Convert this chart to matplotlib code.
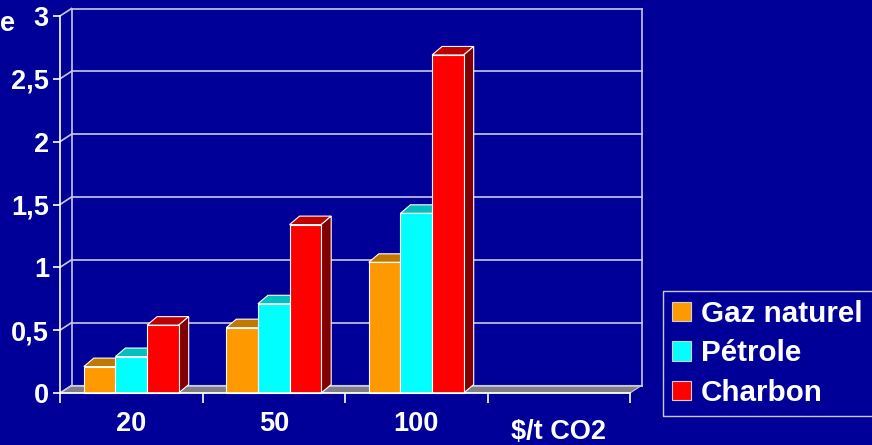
import matplotlib
matplotlib.use("Agg")
import matplotlib.pyplot as plt
from matplotlib.patches import Polygon, Rectangle, Patch

# ------------------------
# Data
# ------------------------
prices = ["20", "50", "100"]
series = ["Gaz naturel", "Pétrole", "Charbon"]
gaz = [0.21, 0.52, 1.04]
petrole = [0.29, 0.71, 1.43]
charbon = [0.54, 1.34, 2.69]
yticks = [0, 0.5, 1, 1.5, 2, 2.5, 3]
ytick_labels = ["0", "0,5", "1", "1,5", "2", "2,5", "3"]

BG = "#000099"
FRONT = ["#FF9900", "#00FFFF", "#FF0000"]
TOP = ["#C07800", "#00C0C0", "#C00000"]
SIDE = ["#A05A00", "#008C8C", "#800000"]
WALL = "#C8C8E6"

plt.rcParams["font.family"] = ["Liberation Sans", "DejaVu Sans"]
plt.rcParams["font.weight"] = "bold"

fig = plt.figure(figsize=(8.72, 4.45), dpi=100, facecolor=BG)
W, H = 872, 445
ax = fig.add_axes([60 / W, 52 / H, 570 / W, 377 / H])
ax.set_facecolor("none")
ax.set_xlim(0, 4)
ax.set_ylim(0, 3)

# pixel -> data helpers for the 3D depth
px_x = 4 / 570
px_y = 3 / 377
wdx, wdy = 11.5 * px_x, 7.5 * px_y     # walls
bdx, bdy = 10 * px_x, 8.5 * px_y       # bars

# back wall, side wall, floor
ax.add_patch(Polygon([(0, 0), (4, 0), (4 + wdx, wdy), (wdx, wdy)],
                     closed=True, facecolor="#808080", edgecolor=WALL,
                     lw=0.8, clip_on=False, zorder=1))
for y in yticks:
    ax.plot([wdx, 4 + wdx], [y + wdy, y + wdy], color=WALL, lw=1.2,
            clip_on=False, zorder=1)
    ax.plot([0, wdx], [y, y + wdy], color=WALL, lw=1.2, clip_on=False, zorder=1)
ax.plot([wdx, wdx], [wdy, 3 + wdy], color=WALL, lw=1.2, clip_on=False, zorder=1)
ax.plot([4 + wdx, 4 + wdx], [wdy, 3 + wdy], color=WALL, lw=1.2,
        clip_on=False, zorder=1)

# 3D bars: top, side, then front face
bw = 0.222
values = [gaz, petrole, charbon]
for i in range(len(prices)):
    for j, vals in enumerate(values):
        v = vals[i]
        x0 = i + 0.5 - 1.5 * bw + j * bw
        ax.add_patch(Polygon([(x0, v), (x0 + bw, v), (x0 + bw + bdx, v + bdy),
                              (x0 + bdx, v + bdy)], closed=True,
                             facecolor=TOP[j], edgecolor="white", lw=0.8,
                             clip_on=False, zorder=3))
        ax.add_patch(Polygon([(x0 + bw, 0), (x0 + bw + bdx, bdy),
                              (x0 + bw + bdx, v + bdy), (x0 + bw, v)],
                             closed=True, facecolor=SIDE[j], edgecolor="white",
                             lw=0.8, clip_on=False, zorder=3))
        ax.add_patch(Rectangle((x0, 0), bw, v, facecolor=FRONT[j],
                               edgecolor="white", lw=0.8, clip_on=False,
                               zorder=3))

# axes
for s in ["top", "right"]:
    ax.spines[s].set_visible(False)
for s in ["left", "bottom"]:
    ax.spines[s].set_color("white")
    ax.spines[s].set_linewidth(1.2)
    ax.spines[s].set_zorder(4)
ax.set_yticks(yticks)
ax.set_yticklabels(ytick_labels)
ax.set_xticks([0, 1, 2, 3, 4])
ax.set_xticklabels([])
ax.set_xticks([0.5, 1.5, 2.5], minor=True)
ax.set_xticklabels(prices, minor=True)
ax.tick_params(axis="y", colors="white", length=5, width=1.2, pad=3,
               labelsize=19.5)
ax.tick_params(axis="x", which="major", colors="white", length=7, width=1.2)
ax.tick_params(axis="x", which="minor", colors="white", length=0, pad=13,
               labelsize=19.5)
ax.text(3.5, -0.21, "$/t CO2", color="white", fontsize=19.5,
        fontweight="bold", ha="center", va="top", clip_on=False)
fig.text(0.0, 1 - 24 / H, "e", color="white", fontsize=19.5,
         fontweight="bold", ha="left", va="center")

# legend box runs past the right edge of the figure
handles = [Patch(facecolor=c, edgecolor="#D0D0D0", lw=0.8) for c in FRONT]
leg = fig.legend(handles, series, loc="upper left", mode="expand",
                 bbox_to_anchor=(663 / W, 1 - 291 / H, 230 / W, 0),
                 bbox_transform=fig.transFigure, frameon=True, fancybox=False,
                 facecolor=BG, edgecolor=WALL, framealpha=1,
                 prop={"family": "Liberation Sans", "weight": "bold",
                       "size": 21.3},
                 handlelength=0.64, handleheight=0.64, handletextpad=0.33,
                 borderpad=0.3, labelspacing=0.39, borderaxespad=0)
for t in leg.get_texts():
    t.set_color("white")

fig.savefig("out.png", dpi=100, facecolor=BG)
